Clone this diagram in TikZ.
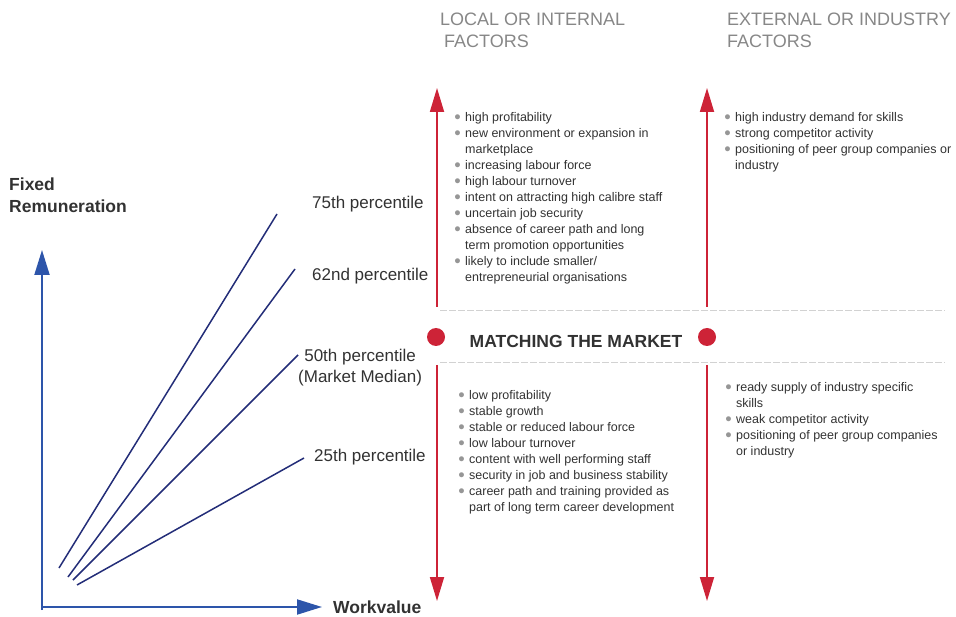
\documentclass[tikz,border=0pt]{standalone}
\usepackage{fontspec}
\setmainfont{Liberation Sans}
\usetikzlibrary{
  arrows.meta
}
\definecolor{axisblue}{RGB}{45,85,170}
\definecolor{lineblue}{RGB}{35,45,120}
\definecolor{mktred}{RGB}{205,35,55}
\definecolor{headgray}{RGB}{135,135,135}
\definecolor{txtgray}{RGB}{50,50,50}
\definecolor{bulgray}{RGB}{150,150,150}
\newcommand{\bul}{\raisebox{1.2pt}{\textcolor{bulgray}{\fontsize{11.5}{16}\selectfont\char"25CF}}}
\tikzset{
  axis/.style={draw=axisblue, line width=2pt, -{Triangle[length=25pt,width=15pt]}},
  pctline/.style={draw=lineblue, line width=1.5pt},
  mktarrow/.style={draw=mktred, line width=1.8pt, -{Triangle[length=24pt,width=14pt]}},
  pct/.style={inner sep=0pt, text=txtgray, font=\fontsize{17}{21}\selectfont},
  axlabel/.style={inner sep=0pt, text=txtgray, font=\bfseries\fontsize{17.5}{22}\selectfont},
  header/.style={inner sep=0pt, text=headgray, align=left, font=\fontsize{18}{22}\selectfont},
  factors/.style={inner sep=0pt, text=txtgray, font=\fontsize{12.5}{16}\selectfont},
  mktdot/.style={circle, fill=mktred, minimum size=18pt, inner sep=0pt},
  sepline/.style={draw=gray!35, line width=0.8pt, dash pattern=on 7pt off 2pt}
}

\begin{document}
\begin{tikzpicture}[x=1pt, y=-1pt]
      \useasboundingbox (0,0) rectangle (956,617);

      % axes
      \coordinate (orig) at (42,608);
      \coordinate (ytip) at (42,250);
      \coordinate (xtip) at (322,607);
      \draw[axis] (42,610) -- (ytip);
      \draw[axis] (41,607) -- (xtip);
      \node[axlabel, align=left, anchor=west] (ylab) at (9,195) {Fixed\\Remuneration};
      \node[axlabel, anchor=west] (xlab) at (333,607) {Workvalue};

      % percentile lines
      \coordinate (s75) at (59,568);
      \coordinate (e75) at (277,214);
      \coordinate (s62) at (68,577);
      \coordinate (e62) at (295,269);
      \coordinate (s50) at (73,580);
      \coordinate (e50) at (298,355);
      \coordinate (s25) at (77,585);
      \coordinate (e25) at (304,458);
      \draw[pctline] (s75) -- (e75);
      \draw[pctline] (s62) -- (e62);
      \draw[pctline] (s50) -- (e50);
      \draw[pctline] (s25) -- (e25);

      \node[pct, anchor=west] (p75) at (312,204) {75th percentile};
      \node[pct, anchor=west] (p62) at (312,276) {62nd percentile};
      \node[pct, align=center, anchor=west] (p50) at (298,368) {50th percentile\\(Market Median)};
      \node[pct, anchor=west] (p25) at (314,457) {25th percentile};

      % market arrows
      \coordinate (lTopEnd) at (437,307);
      \coordinate (lTopTip) at (437,88);
      \coordinate (lBotStart) at (437,365);
      \coordinate (lBotTip) at (437,601);
      \coordinate (rTopEnd) at (707,307);
      \coordinate (rTopTip) at (707,88);
      \coordinate (rBotStart) at (707,365);
      \coordinate (rBotTip) at (707,601);
      \draw[mktarrow] (lTopEnd) -- (lTopTip);
      \draw[mktarrow] (lBotStart) -- (lBotTip);
      \draw[mktarrow] (rTopEnd) -- (rTopTip);
      \draw[mktarrow] (rBotStart) -- (rBotTip);

      \draw[sepline] (440,310) -- (945,310);
      \draw[sepline] (440,362) -- (945,362);

      \node[mktdot] (dotL) at (436,337) {};
      \node[mktdot] (dotR) at (707,337) {};
      \node[inner sep=0pt, text=txtgray, font=\bfseries\fontsize{17.5}{20}\selectfont] (match) at (576,341) {MATCHING THE MARKET};

      % headers
      \node[header, anchor=north west] (hLocal) at (440,13) {LOCAL OR INTERNAL\\\hspace{4pt}FACTORS};
      \node[header, anchor=north west] (hExt) at (727,13) {EXTERNAL OR INDUSTRY\\FACTORS};

      % factor lists
      \node[factors, anchor=north west] (localHigh) at (454,110) {%
        \begin{tabular}{@{}l@{\hspace{4pt}}l@{}}
          \bul & high profitability\\
          \bul & new environment or expansion in\\
               & marketplace\\
          \bul & increasing labour force\\
          \bul & high labour turnover\\
          \bul & intent on attracting high calibre staff\\
          \bul & uncertain job security\\
          \bul & absence of career path and long\\
               & term promotion opportunities\\
          \bul & likely to include smaller/\\
               & entrepreneurial organisations
        \end{tabular}};
      \node[factors, anchor=north west] (extHigh) at (724,110) {%
        \begin{tabular}{@{}l@{\hspace{4pt}}l@{}}
          \bul & high industry demand for skills\\
          \bul & strong competitor activity\\
          \bul & positioning of peer group companies or\\
               & industry
        \end{tabular}};
      \node[factors, anchor=north west] (localLow) at (458,388) {%
        \begin{tabular}{@{}l@{\hspace{4pt}}l@{}}
          \bul & low profitability\\
          \bul & stable growth\\
          \bul & stable or reduced labour force\\
          \bul & low labour turnover\\
          \bul & content with well performing staff\\
          \bul & security in job and business stability\\
          \bul & career path and training provided as\\
               & part of long term career development
        \end{tabular}};
      \node[factors, anchor=north west] (extLow) at (725,380) {%
        \begin{tabular}{@{}l@{\hspace{4pt}}l@{}}
          \bul & ready supply of industry specific\\
               & skills\\
          \bul & weak competitor activity\\
          \bul & positioning of peer group companies\\
               & or industry
        \end{tabular}};

    \end{tikzpicture}
\end{document}
